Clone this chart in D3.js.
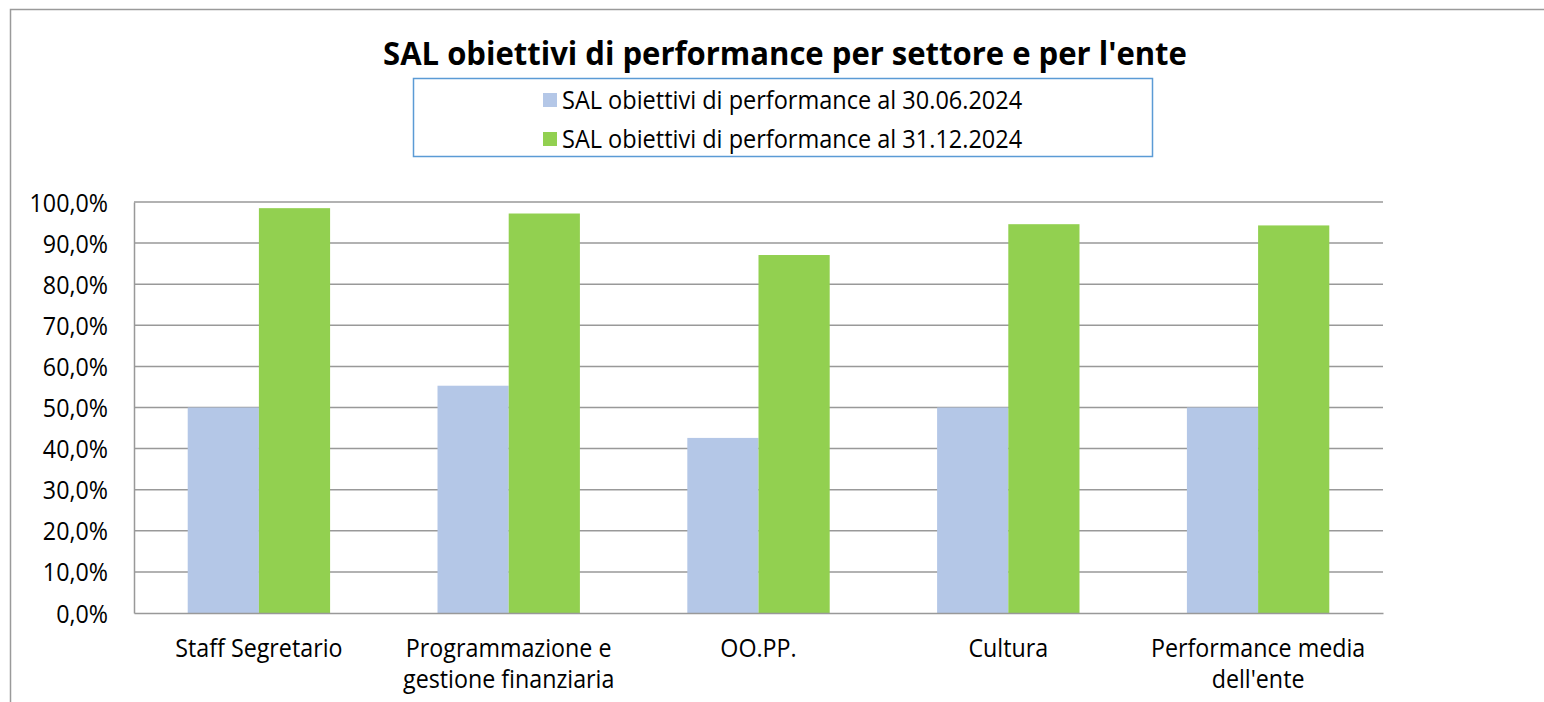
<!DOCTYPE html>
<html>
<head>
<meta charset="utf-8">
<script src="https://cdn.jsdelivr.net/npm/d3@7"></script>
<style>
  body { margin: 0; background: #fff; }
  svg text { font-family: "Open Sans", sans-serif; fill: #000; }
</style>
</head>
<body>
<svg width="1544" height="702"></svg>
<script>
// data
const categories = [["Staff Segretario"], ["Programmazione e", "gestione finanziaria"], ["OO.PP."], ["Cultura"], ["Performance media", "dell'ente"]];
const seriesNames = ["SAL obiettivi di performance al 30.06.2024", "SAL obiettivi di performance al 31.12.2024"];
const sal3006 = [50.0, 55.3, 42.6, 50.0, 50.0];
const sal3112 = [98.5, 97.2, 87.1, 94.6, 94.3];
const yTicks = [0, 10, 20, 30, 40, 50, 60, 70, 80, 90, 100];
const colors = ["#b4c7e7", "#92d050"];

const title = "SAL obiettivi di performance per settore e per l'ente";

// calibri is narrower than what we have, so squeeze the text a bit
function squeeze(sel, k) {
    sel.each(function() {
        const len = this.getComputedTextLength();
        d3.select(this).attr("textLength", len * k).attr("lengthAdjust", "spacingAndGlyphs");
    });
}

const svg = d3.select("svg");

// outer chart border, runs off the right and bottom edges
svg.append("rect")
    .attr("x", 10.5).attr("y", 9.5)
    .attr("width", 1600).attr("height", 800)
    .attr("fill", "none").attr("stroke", "#9a9a9a").attr("stroke-width", 1.5);

const pLeft = 134, pRight = 1383, pTop = 202, pBottom = 613;

const xScale = d3.scaleBand()
    .domain(d3.range(categories.length))
    .range([pLeft, pRight])
    .paddingInner(0.43)
    .paddingOuter(0.215);

const xInner = d3.scaleBand()
    .domain([0, 1])
    .range([0, xScale.bandwidth()]);

const yScale = d3.scaleLinear()
    .domain([0, 100])
    .range([pBottom, pTop]);

// gridlines
svg.append("g")
    .selectAll("line")
    .data(yTicks.slice(1))
    .join("line")
    .attr("x1", pLeft).attr("x2", pRight)
    .attr("y1", d => yScale(d)).attr("y2", d => yScale(d))
    .attr("stroke", "#999").attr("stroke-width", 1.5);

// bars
const rows = categories.map((c, i) => [sal3006[i], sal3112[i]]);
const groups = svg.append("g")
    .selectAll("g")
    .data(rows)
    .join("g")
    .attr("transform", (d, i) => "translate(" + xScale(i) + ",0)");

groups.selectAll("rect")
    .data(d => d)
    .join("rect")
    .attr("x", (d, j) => xInner(j))
    .attr("width", xInner.bandwidth())
    .attr("y", d => yScale(d))
    .attr("height", d => yScale(0) - yScale(d))
    .attr("fill", (d, j) => colors[j]);

// axes
const yAxis = d3.axisLeft(yScale)
    .tickValues(yTicks)
    .tickSize(0)
    .tickPadding(26)
    .tickFormat(d => d3.format(".1f")(d).replace(".", ",") + "%");

const left_axis = svg.append("g")
    .attr("transform", "translate(" + pLeft + ",0)")
    .call(yAxis);
left_axis.select(".domain").attr("stroke", "#999").attr("stroke-width", 1.5);
left_axis.selectAll("text")
    .attr("font-size", 25)
    .attr("font-family", "Open Sans")
    .attr("dy", "0.36em")
    .call(squeeze, 0.93);

const xAxis = d3.axisBottom(xScale)
    .tickSize(0)
    .tickFormat("");

const bottom_axis = svg.append("g")
    .attr("transform", "translate(0," + pBottom + ")")
    .call(xAxis);
bottom_axis.select(".domain").attr("stroke", "#999").attr("stroke-width", 1.5);

// category labels, some on two lines
const catLabels = svg.append("g")
    .selectAll("text")
    .data(categories)
    .join("text")
    .attr("x", (d, i) => xScale(i) + xScale.bandwidth() / 2)
    .attr("y", 657)
    .attr("text-anchor", "middle")
    .attr("font-size", 25);
catLabels.selectAll("tspan")
    .data(d => d)
    .join("tspan")
    .attr("x", function() { return this.parentNode.getAttribute("x"); })
    .attr("dy", (d, j) => j === 0 ? 0 : 31)
    .text(d => d)
    .call(squeeze, 0.93);

// title
svg.append("text")
    .attr("x", 785)
    .attr("y", 65)
    .attr("text-anchor", "middle")
    .attr("font-size", 33)
    .attr("font-weight", "bold")
    .text(title)
    .call(squeeze, 0.94);

// legend box
svg.append("rect")
    .attr("x", 413.5).attr("y", 78.5)
    .attr("width", 739).attr("height", 78)
    .attr("fill", "#fff").attr("stroke", "#5b9bd5").attr("stroke-width", 1.5);

const legend = svg.append("g")
    .selectAll("g")
    .data(seriesNames)
    .join("g")
    .attr("transform", (d, i) => "translate(543," + (100 + i * 39) + ")");
legend.append("rect")
    .attr("x", 0).attr("y", -7)
    .attr("width", 14).attr("height", 14)
    .attr("fill", (d, i) => colors[i]);
legend.append("text")
    .attr("x", 19)
    .attr("dy", "0.36em")
    .attr("font-size", 25)
    .text(d => d)
    .call(squeeze, 0.94);
</script>
</body>
</html>
